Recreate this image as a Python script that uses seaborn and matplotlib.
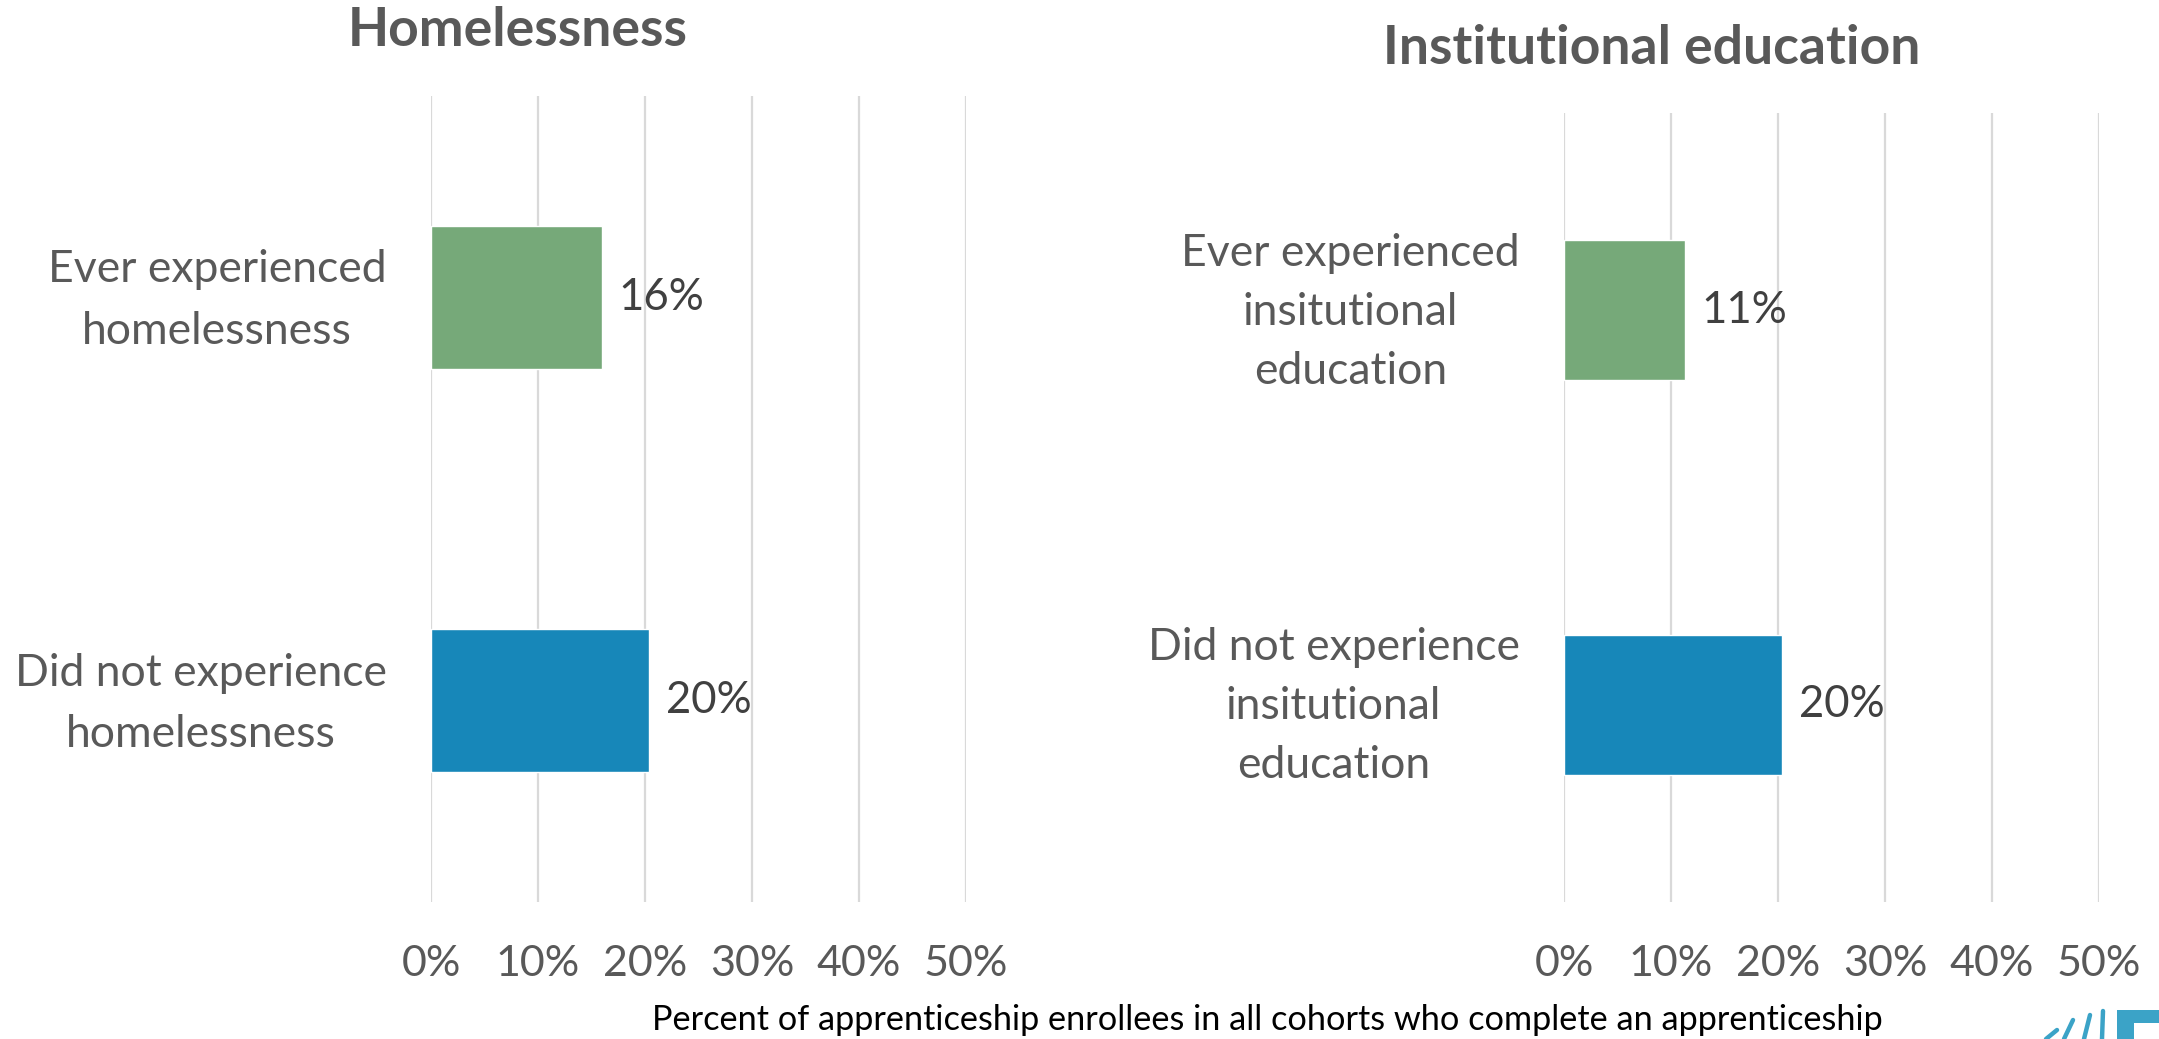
import matplotlib
matplotlib.use("Agg")
import matplotlib.pyplot as plt
import matplotlib.transforms as mtransforms
import seaborn as sns
from matplotlib.patches import Rectangle
from matplotlib.lines import Line2D

# Data
home_categories = ["Ever experienced\nhomelessness", "Did not experience\nhomelessness"]
home_values = [0.16, 0.204]
inst_categories = ["Ever experienced\ninsitutional\neducation",
                   "Did not experience\ninsitutional\neducation"]
inst_values = [0.113, 0.204]
x_ticks = [0.0, 0.1, 0.2, 0.3, 0.4, 0.5]
x_tick_labels = ["0%", "10%", "20%", "30%", "40%", "50%"]
panel_titles = ["Homelessness", "Institutional education"]
footer = "Percent of apprenticeship enrollees in all cohorts who complete an apprenticeship"

GREEN = "#76A979"
BLUE = "#1787B9"
GRAY = "#595959"
DARK = "#404040"
GRID = "#D9D9D9"

sns.set_theme(style="white")
plt.rcParams["font.family"] = ["Lato", "DejaVu Sans"]

W, H = 2159, 1039
fig = plt.figure(figsize=(W / 100, H / 100), dpi=100)
fig.patch.set_facecolor("white")


def px_axes(left, top, right, bottom):
    return fig.add_axes([left / W, 1 - bottom / H, (right - left) / W, (bottom - top) / H])


def draw_panel(ax, cats, vals, spacing):
    sns.barplot(x=vals, y=cats, hue=cats, palette=[GREEN, BLUE], width=0.355,
                saturation=1, legend=False, ax=ax, orient="h", zorder=2)
    ax.set_xlim(0, 0.5)
    ax.set_ylim(1.5, -0.5)
    ax.set_xticks(x_ticks)
    ax.set_xticklabels(x_tick_labels)
    ax.xaxis.grid(True, color=GRID, linewidth=1.6, zorder=0)
    ax.yaxis.grid(False)
    ax.set_axisbelow(True)
    for s in ax.spines.values():
        s.set_visible(False)
    ax.tick_params(axis="x", length=0, pad=31, labelsize=31, labelcolor=GRAY)
    ax.tick_params(axis="y", length=0, pad=32, labelsize=32, labelcolor=GRAY)
    # nudge the category labels slightly upward
    lift = mtransforms.ScaledTranslation(0, 11 / 100, fig.dpi_scale_trans)
    for lab in ax.get_yticklabels():
        lab.set_multialignment("center")
        lab.set_linespacing(spacing)
        lab.set_transform(lab.get_transform() + lift)
    ax.set_xlabel("")
    ax.set_ylabel("")
    for container in ax.containers:
        ax.bar_label(container, labels=[f"{v:.0%}" for v in container.datavalues],
                     padding=12, fontsize=31.5, color=DARK)


ax_left = px_axes(431, 96, 966, 902)
draw_panel(ax_left, home_categories, home_values, 1.62)

ax_right = px_axes(1564, 113, 2099, 902)
draw_panel(ax_right, inst_categories, inst_values, 1.55)

fig.text(518 / W, 1 - 30 / H, panel_titles[0], ha="center", va="center",
         fontsize=38.5, fontweight="bold", color=GRAY)
fig.text(1652 / W, 1 - 48 / H, panel_titles[1], ha="center", va="center",
         fontsize=38.5, fontweight="bold", color=GRAY)
fig.text(1267 / W, 1 - 1020 / H, footer, ha="center", va="center",
         fontsize=24.7, color="black")

# Corner logo mark
LOGO = "#3BA3C7"
fig.add_artist(Rectangle((2117 / W, 0), 60 / W, 29 / H, transform=fig.transFigure,
                         facecolor=LOGO, edgecolor="none"))
fig.add_artist(Rectangle((2134 / W, 0), 40 / W, 16 / H, transform=fig.transFigure,
                         facecolor="white", edgecolor="none"))
for (x0, y0, x1, y1) in [(2102, 1039, 2103, 1011), (2084, 1039, 2090, 1015),
                         (2064, 1039, 2073, 1020), (2046, 1039, 2057, 1030)]:
    fig.add_artist(Line2D([x0 / W, x1 / W], [1 - y0 / H, 1 - y1 / H],
                          transform=fig.transFigure, color=LOGO, linewidth=3.2,
                          solid_capstyle="round"))

fig.savefig("out.png", dpi=100, facecolor="white")
